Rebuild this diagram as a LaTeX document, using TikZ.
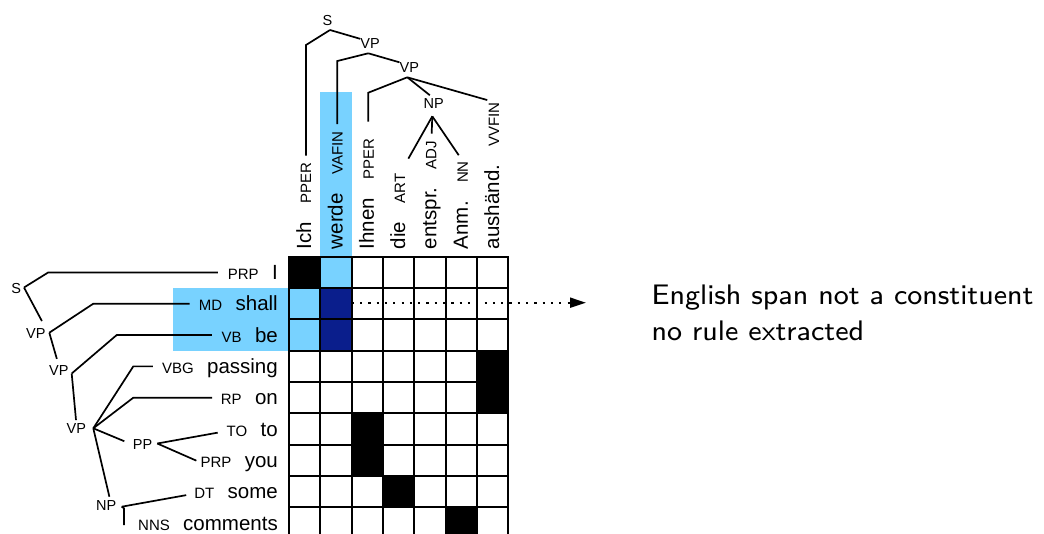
\documentclass[tikz,border=0pt]{standalone}
\usepackage{fontspec}
\setmainfont{Liberation Sans}
\usetikzlibrary{calc,arrows.meta}
\definecolor{spanblue}{RGB}{120,210,255}
\definecolor{alignblue}{RGB}{10,30,140}

\begin{document}
\begin{tikzpicture}[x=1pt,y=-1pt,
  word/.style={inner sep=0pt,font=\fontsize{20.5}{24}\selectfont},
  tag/.style={inner sep=0pt,font=\fontsize{15}{18}\selectfont},
  cat/.style={inner sep=0pt,font=\fontsize{14.5}{17}\selectfont},
  branch/.style={line width=1.7pt,line join=miter},
  gridline/.style={line width=1.8pt},
]
\useasboundingbox (0,0) rectangle (1044,533);
\clip (0,0) rectangle (1044,533);

% span highlights
\fill[spanblue] (172.7,288) rectangle (289,350.7);
\fill[spanblue] (320.3,91.7) rectangle (351.7,256.7);

% alignment matrix: filled cells
\newcommand\cellfill[3]{\fill[#1] ({289+31.33*#2},{256.7+31.33*#3}) rectangle ++(31.33,31.33);}
\cellfill{spanblue}{0}{1}
\cellfill{spanblue}{0}{2}
\cellfill{spanblue}{1}{0}
\cellfill{alignblue}{1}{1}
\cellfill{alignblue}{1}{2}
\cellfill{black}{0}{0}
\cellfill{black}{6}{3}
\cellfill{black}{6}{4}
\cellfill{black}{2}{5}
\cellfill{black}{2}{6}
\cellfill{black}{3}{7}
\cellfill{black}{5}{8}

% alignment matrix: grid lines
\foreach \i in {0,...,7}
  \draw[gridline] ({289+31.33*\i},256.7) -- ++(0,290);
\foreach \j in {0,...,9}
  \draw[gridline] (288.1,{256.7+31.33*\j}) -- ++(221.1,0);

% English words with tags (rows)
\foreach \w/\t/\n [count=\j from 0] in
  {I/PRP/a, shall/MD/b, be/VB/c, passing/VBG/d, on/RP/e, to/TO/f,
   you/PRP/g, some/DT/h, comments/NNS/i} {
  \node[word,anchor=base east] (w\n) at (278,{272.37+31.33*\j+7.2}) {\w};
  \node[tag,anchor=base east] (t\n) at ([xshift=-13pt]w\n.base west) {\t};
}

% German words with tags (columns)
\foreach \w/\t/\n [count=\i from 0] in
  {Ich/PPER/A, werde/VAFIN/B, Ihnen/PPER/C, die/ART/D, entspr./ADJ/E,
   Anm./NN/F, aushänd./VVFIN/G} {
  \node[word,rotate=90,anchor=base west] (cw\n) at ({304.67+31.33*\i+6.5},249.3) {\w};
  \node[tag,rotate=90,anchor=base west] (ct\n) at ([yshift=18pt]cw\n.base east) {\t};
}

% German tree
\node[cat] (S1) at (327.5,20.5) {S};
\node[cat] (VPa) at (370,44) {VP};
\node[cat] (VPb) at (409.3,67.5) {VP};
\node[cat] (NPa) at (433.7,103.5) {NP};
\coordinate (aS1) at (330,30);
\coordinate (bS1) at (306,45);
\coordinate (aVPa) at (368.3,53.3);
\coordinate (bVPa) at (337.3,61);
\coordinate (aVPb) at (407.3,77.3);
\coordinate (bVPb) at (368.3,92.7);
\coordinate (aNPa) at (432.3,116.3);
\draw[branch,shorten >=6.7] (aS1) -- (bS1) -- (bS1 |- ctA.east);
\draw[branch] (aS1) -- (VPa.north west);
\draw[branch,shorten >=7.4] (aVPa) -- (bVPa) -- (bVPa |- ctB.east);
\draw[branch] (aVPa) -- (VPb.north west);
\draw[branch,shorten >=16.7] (aVPb) -- (bVPb) -- (bVPb |- ctC.east);
\draw[branch,shorten >=5] (aVPb) -- (NPa.north);
\draw[branch,shorten >=7] (aVPb) -- (ctG.east);
\draw[branch,shorten >=17] (aNPa) -- (ctD.east);
\draw[branch,shorten >=7] (aNPa) -- (ctE.east);
\draw[branch,shorten >=7] (aNPa) -- (ctF.east);

% English tree
\node[cat] (S2) at (16.2,288.8) {S};
\node[cat] (VPc) at (35.8,333.3) {VP};
\node[cat] (VPd) at (58.8,370.8) {VP};
\node[cat] (VPe) at (76.3,428.3) {VP};
\node[cat] (PPa) at (142.5,444.7) {PP};
\node[cat] (NPb) at (106.3,505.8) {NP};
\coordinate (aS2) at (24,287.5);
\coordinate (bS2) at (48.3,272.4);
\coordinate (aVPc) at (49.3,332.7);
\coordinate (bVPc) at (93.3,303.7);
\coordinate (aVPd) at (71.7,373.5);
\coordinate (bVPd) at (116.7,335.03);
\coordinate (aVPe) at (93.3,428.3);
\coordinate (bVBG) at (133.3,366.37);
\coordinate (bRP) at (133.3,397.7);
\coordinate (aPPa) at (157.3,443.5);
\coordinate (aNPb) at (121.7,506.7);
\coordinate (bNNS) at (124,508.3);
\draw[branch,shorten >=9.7] (aS2) -- (bS2) -- (bS2 -| ta.west);
\draw[branch,shorten >=8] (aS2) -- (VPc.north east);
\draw[branch,shorten >=9] (aVPc) -- (bVPc) -- (bVPc -| tb.west);
\draw[branch,shorten >=7] (aVPc) -- (VPd.north);
\draw[branch,shorten >=9.5] (aVPd) -- (bVPd) -- (bVPd -| tc.west);
\draw[branch,shorten >=3] (aVPd) -- (VPe.north);
\draw[branch,shorten >=9] (aVPe) -- (bVBG) -- (bVBG -| td.west);
\draw[branch,shorten >=8.5] (aVPe) -- (bRP) -- (bRP -| te.west);
\draw[branch,shorten >=9] (aVPe) -- (PPa.west);
\draw[branch,shorten >=4] (aVPe) -- ([xshift=4pt]NPb.north);
\draw[branch,shorten >=9] (aPPa) -- (tf.west);
\draw[branch,shorten >=4.3] (aPPa) -- (tg.west);
\draw[branch,shorten >=8] (aNPb) -- (th.west);
\draw[branch] (aNPb) -- (bNNS) -- (bNNS |- ti.west);

% non-constituent span and its note
\coordinate (spanR) at (351.7,302.7);
\coordinate (arrowTip) at (586,302.7);
\draw[line width=2pt,dash pattern=on 2.2pt off 6.1pt,
      -{Triangle[length=16pt,width=10pt]}] (spanR) -- (arrowTip);
\node[anchor=base west,inner sep=0pt,align=left,scale=3.53,transform shape,
      font=\sffamily\fontsize{8}{10.1}\selectfont] (note) at (651,340)
  {English span not a constituent\\no rule extracted};
\end{tikzpicture}
\end{document}
